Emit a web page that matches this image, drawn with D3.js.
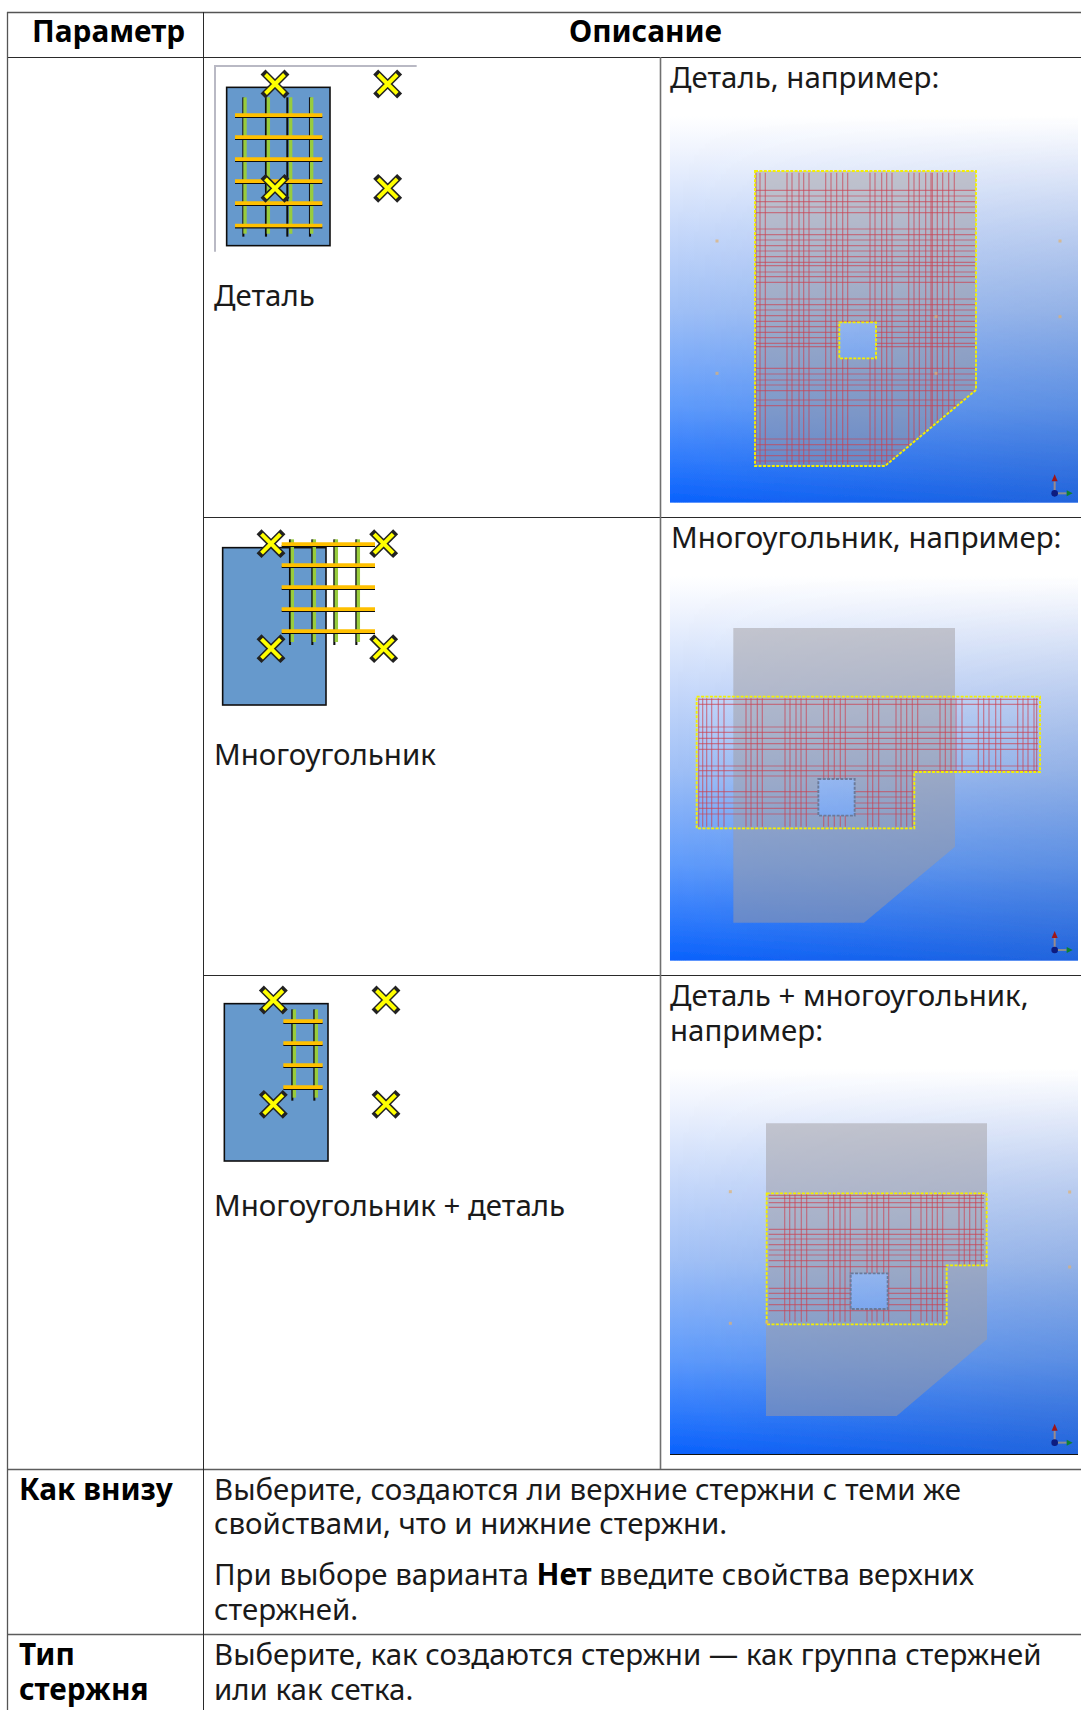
<!DOCTYPE html>
<html>
<head>
<meta charset="utf-8">
<style>
  html, body { margin: 0; padding: 0; background: #fff; overflow: hidden; }
  svg { display: block; }
  text { font-family: "Noto Sans", sans-serif; font-size: 29.45px; fill: #1a1a1a; }
  .b { font-weight: 700; fill: #000; font-size: 29.8px; }
  tspan.b { font-weight: 700; fill: #000; font-size: 29.8px; }
</style>
<script src="https://cdn.jsdelivr.net/npm/d3@7"></script>
</head>
<body>
<svg id="page" width="1081" height="1710"></svg>
<script>
//
// Data
//

// table rules
var ruleCols = [7, 203, 660]
var ruleRows = [12, 57, 517, 975, 1469, 1634]

// text: [x, baseline, string, bold]
var tableText = [
  [32, 42, 'Параметр', true],
  [569, 42, 'Описание', true],
  [214, 306, 'Деталь', false],
  [670, 88, 'Деталь, например:', false],
  [214, 765, 'Многоугольник', false],
  [671, 548, 'Многоугольник, например:', false],
  [214, 1216, 'Многоугольник + деталь', false],
  [670, 1006, 'Деталь + многоугольник,', false],
  [670, 1041, 'например:', false],
  [19, 1500, 'Как внизу', true],
  [214, 1500, 'Выберите, создаются ли верхние стержни с теми же', false],
  [214, 1534, 'свойствами, что и нижние стержни.', false],
  [214, 1620, 'стержней.', false],
  [19, 1665, 'Тип', true],
  [19, 1700, 'стержня', true],
  [214, 1665, 'Выберите, как создаются стержни — как группа стержней', false],
  [214, 1700, 'или как сетка.', false]
]

// the one line with a bold word in it
var mixedLine = [['При выборе варианта ', false], ['Нет', true], [' введите свойства верхних', false]]
var mixedLineAt = [214, 1585]

// icons, in 3x crop units of each thumbnail
var icon1Origin = [205, 55]
var icon1Block = [65, 97, 375, 572]
var icon1Green = [120, 190, 257, 320]
var icon1Black = [115, 183, 247, 315]
var icon1Span = [127, 545]
var icon1BarSpan = [90, 352]
var icon1Bars = [182, 248, 314, 380, 446, 513]
var icon1Cross = [[210, 87], [548, 87], [548, 400], [210, 400]]

var icon2Origin = [200, 510]
var icon2Block = [68, 113, 378, 585]
var icon2Green = [277, 343, 409, 475]
var icon2Black = [270, 337, 403, 469]
var icon2Span = [88, 405]
var icon2BarSpan = [245, 525]
var icon2Bars = [104, 167, 233, 299, 365]
var icon2Cross = [[213, 101], [551, 101], [213, 416], [551, 416]]

var icon3Origin = [200, 970]
var icon3Block = [73, 101, 384, 573]
var icon3Green = [283, 349]
var icon3Black = [277, 343]
var icon3Span = [118, 392]
var icon3BarSpan = [250, 368]
var icon3Bars = [155, 221, 287, 353]
var icon3Cross = [[220, 90], [558, 90], [220, 403], [558, 403]]

// screenshots, in 3x crop units
var shot1Origin = [660, 100]
var shot1Back = [30, 48, 1254, 1208]
var shot1Plate = [[285, 213], [948, 213], [948, 870], [675, 1098], [285, 1098]]
var shot1Hole = [[538, 667], [648, 667], [648, 775], [538, 775]]
var shot1Outline = shot1Plate
var shot1Vert = [288, 300, 316, 381, 396, 417, 431, 447, 497, 513, 530, 548, 563, 630, 645, 665, 680, 696, 746, 762, 778, 797, 813, 817, 832, 848, 866, 883]
var shot1Horz = [271, 288, 305, 321, 338, 387, 404, 420, 437, 453, 470, 487, 497, 516, 530, 547, 597, 614, 630, 647, 664, 680, 697, 713, 730, 740, 805, 822, 840, 855, 872, 900, 917, 1017, 1034, 1050, 1067, 1083]
var shot1VertSpan = [218, 1092]
var shot1HorzSpan = [288, 945]
var shot1Specks = [[171, 423], [1200, 423], [171, 820], [1200, 650], [828, 650], [828, 820]]
var shot1Triad = [1184, 1180]

var shot2Origin = [660, 560]
var shot2Back = [30, 48, 1254, 1202]
var shot2Plate = [[220, 204], [885, 204], [885, 860], [612, 1088], [220, 1088]]
var shot2Hole = [[475, 657], [584, 657], [584, 767], [475, 767]]
var shot2Outline = [[110, 410], [1140, 410], [1140, 636], [763, 636], [763, 805], [110, 805]]
var shot2Vert = [116, 128, 140, 155, 175, 192, 258, 273, 292, 307, 375, 390, 408, 423, 439, 491, 505, 523, 541, 556, 623, 638, 656, 708, 723, 740, 757, 773, 840, 856, 873, 888, 906, 955, 971, 987, 1007, 1022, 1073, 1089, 1104, 1122, 1130]
var shot2Horz = [418, 433, 501, 517, 535, 551, 568, 618, 632, 648, 695, 711, 729, 745, 762]
var shot2VertSpan = [415, 800]
var shot2HorzSpan = [116, 1134]
var shot2Specks = []
var shot2Triad = [1184, 1170]

var shot3Origin = [660, 1060]
var shot3Back = [30, 25, 1254, 1182]
var shot3Plate = [[318, 190], [981, 190], [981, 838], [710, 1068], [318, 1068]]
var shot3Hole = [[572, 640], [683, 640], [683, 747], [572, 747]]
var shot3Outline = [[320, 400], [980, 400], [980, 616], [860, 616], [860, 793], [320, 793]]
var shot3Vert = [374, 389, 405, 424, 440, 505, 521, 540, 555, 571, 621, 636, 651, 671, 686, 752, 783, 800, 817, 832, 848, 897, 913, 929, 947, 964]
var shot3Horz = [406, 415, 428, 442, 508, 523, 537, 554, 570, 585, 602, 620, 685, 700, 716, 734, 752]
var shot3VertSpan = [403, 785]
var shot3HorzSpan = [326, 972]
var shot3Specks = [[211, 395], [211, 790], [321, 788], [1229, 396], [1229, 621]]
var shot3Triad = [1184, 1148]

//
// Colors
//

var colorBlock = '#6699cc'
var colorGreen = '#98cc3e'
var colorOrange = '#ffc000'
var colorCross = '#ffff00'
var colorRebar = '#cc4050'
var colorOutline = '#f4f000'

//
// Setup
//

var svg = d3.select('#page')
var defs = svg.append('defs')
var line = d3.line()

defs.append('filter').attr('id', 'soft').append('feGaussianBlur').attr('stdDeviation', 0.5)
defs.append('filter').attr('id', 'softer').append('feGaussianBlur').attr('stdDeviation', 0.35)

var sky = defs.append('linearGradient').attr('id', 'sky')
  .attr('x1', 0).attr('y1', 0).attr('x2', 0).attr('y2', 1)
sky.selectAll('stop')
  .data([[0, '#ffffff'], [0.08, '#f1f5fe'], [0.3, '#c6d8fa'], [0.5, '#a0c0f6'], [0.75, '#5f9bfb'], [1, '#0a62fd']])
  .join('stop')
  .attr('offset', function (d) { return d[0] })
  .attr('stop-color', function (d) { return d[1] })

var dim = defs.append('linearGradient').attr('id', 'dim')
dim.append('stop').attr('offset', 0).attr('stop-color', '#5a6a90').attr('stop-opacity', 0)
dim.append('stop').attr('offset', 1).attr('stop-color', '#5a6a90').attr('stop-opacity', 0.3)

var fade = defs.append('linearGradient').attr('id', 'fade')
  .attr('x1', 0).attr('y1', 0).attr('x2', 0).attr('y2', 1)
fade.append('stop').attr('offset', 0).attr('stop-color', '#000')
fade.append('stop').attr('offset', 1).attr('stop-color', '#fff')
defs.append('mask').attr('id', 'fadeMask')
  .attr('maskContentUnits', 'objectBoundingBox')
  .append('rect').attr('width', 1).attr('height', 1).attr('fill', 'url(#fade)')

function cropScales(origin) {
  return {
    x: d3.scaleLinear().domain([0, 3]).range([origin[0], origin[0] + 1]),
    y: d3.scaleLinear().domain([0, 3]).range([origin[1], origin[1] + 1])
  }
}

function polyPath(s, pts) {
  return line(pts.map(function (p) { return [s.x(p[0]), s.y(p[1])] })) + 'Z'
}

//
// Icons
//

function drawIcon(origin, block, green, black, span, barSpan, bars, cross) {
  var s = cropScales(origin)
  var g = svg.append('g').attr('filter', 'url(#softer)')

  g.append('rect')
    .attr('x', s.x(block[0])).attr('y', s.y(block[1]))
    .attr('width', s.x(block[2]) - s.x(block[0])).attr('height', s.y(block[3]) - s.y(block[1]))
    .attr('fill', colorBlock).attr('stroke', '#111').attr('stroke-width', 1.6)

  g.selectAll('.black').data(black).join('line').attr('class', 'black')
    .attr('x1', s.x).attr('x2', s.x)
    .attr('y1', s.y(span[0])).attr('y2', s.y(span[1]))
    .attr('stroke', '#111').attr('stroke-width', 2.1)
  g.selectAll('.green').data(green).join('line').attr('class', 'green')
    .attr('x1', s.x).attr('x2', s.x)
    .attr('y1', s.y(span[0])).attr('y2', s.y(span[1]) - 3)
    .attr('stroke', colorGreen).attr('stroke-width', 3.4)

  g.selectAll('.barShade').data(bars).join('line').attr('class', 'barShade')
    .attr('x1', s.x(barSpan[0])).attr('x2', s.x(barSpan[1]))
    .attr('y1', function (d) { return s.y(d) + 1.5 }).attr('y2', function (d) { return s.y(d) + 1.5 })
    .attr('stroke', '#111').attr('stroke-width', 1.8)
  g.selectAll('.bar').data(bars).join('line').attr('class', 'bar')
    .attr('x1', s.x(barSpan[0])).attr('x2', s.x(barSpan[1]))
    .attr('y1', function (d) { return s.y(d) - 0.5 }).attr('y2', function (d) { return s.y(d) - 0.5 })
    .attr('stroke', colorOrange).attr('stroke-width', 3.6)

  var arm = 9.5
  var crossPath = function (d) {
    var cx = s.x(d[0]), cy = s.y(d[1])
    return 'M' + (cx - arm) + ',' + (cy - arm) + 'L' + (cx + arm) + ',' + (cy + arm) +
      'M' + (cx + arm) + ',' + (cy - arm) + 'L' + (cx - arm) + ',' + (cy + arm)
  }
  g.selectAll('.crossOut').data(cross).join('path').attr('class', 'crossOut')
    .attr('d', crossPath).attr('fill', 'none')
    .attr('stroke', '#222').attr('stroke-width', 7).attr('stroke-linecap', 'square')
  g.selectAll('.crossIn').data(cross).join('path').attr('class', 'crossIn')
    .attr('d', crossPath).attr('fill', 'none')
    .attr('stroke', colorCross).attr('stroke-width', 4).attr('stroke-linecap', 'butt')
}

// grey frame left over from the dialog screenshot
var frame = cropScales(icon1Origin)
svg.append('path')
  .attr('d', line([[frame.x(30), frame.y(590)], [frame.x(30), frame.y(33)], [frame.x(635), frame.y(33)]]))
  .attr('fill', 'none').attr('stroke', '#b9b9c4').attr('stroke-width', 2)

drawIcon(icon1Origin, icon1Block, icon1Green, icon1Black, icon1Span, icon1BarSpan, icon1Bars, icon1Cross)
drawIcon(icon2Origin, icon2Block, icon2Green, icon2Black, icon2Span, icon2BarSpan, icon2Bars, icon2Cross)
drawIcon(icon3Origin, icon3Block, icon3Green, icon3Black, icon3Span, icon3BarSpan, icon3Bars, icon3Cross)

//
// Screenshots
//

function drawShot(id, origin, back, plate, hole, outline, vert, horz, vertSpan, horzSpan, specks, triad, holeColor) {
  var s = cropScales(origin)
  var bx = s.x(back[0]), by = s.y(back[1])
  var bw = s.x(back[2]) - bx, bh = s.y(back[3]) - by
  var g = svg.append('g').attr('filter', 'url(#soft)')

  g.append('rect').attr('x', bx).attr('y', by).attr('width', bw).attr('height', bh).attr('fill', 'url(#sky)')
  g.append('rect').attr('x', bx).attr('y', by).attr('width', bw).attr('height', bh)
    .attr('fill', 'url(#dim)').attr('mask', 'url(#fadeMask)')

  g.append('path')
    .attr('d', polyPath(s, plate) + polyPath(s, hole))
    .attr('fill-rule', 'evenodd')
    .attr('fill', '#a09ca0').attr('opacity', 0.5)

  defs.append('clipPath').attr('id', id)
    .append('path')
    .attr('d', polyPath(s, outline) + polyPath(s, hole))
    .attr('clip-rule', 'evenodd')

  var bars = g.append('g').attr('clip-path', 'url(#' + id + ')')
  bars.selectAll('.v').data(vert).join('line').attr('class', 'v')
    .attr('x1', s.x).attr('x2', s.x)
    .attr('y1', s.y(vertSpan[0])).attr('y2', s.y(vertSpan[1]))
    .attr('stroke', colorRebar).attr('stroke-width', 1.2).attr('stroke-opacity', 0.62)
  bars.selectAll('.h').data(horz).join('line').attr('class', 'h')
    .attr('y1', s.y).attr('y2', s.y)
    .attr('x1', s.x(horzSpan[0])).attr('x2', s.x(horzSpan[1]))
    .attr('stroke', colorRebar).attr('stroke-width', 1.2).attr('stroke-opacity', 0.62)

  g.append('path').attr('d', polyPath(s, outline))
    .attr('fill', 'none').attr('stroke', colorOutline)
    .attr('stroke-width', 1.9).attr('stroke-dasharray', '3 1.4')
  g.append('path').attr('d', polyPath(s, hole))
    .attr('fill', 'none').attr('stroke', holeColor)
    .attr('stroke-width', 1.9).attr('stroke-dasharray', '3 1.4')

  g.selectAll('.speck').data(specks).join('rect').attr('class', 'speck')
    .attr('x', function (d) { return s.x(d[0]) - 1.5 })
    .attr('y', function (d) { return s.y(d[1]) - 1.5 })
    .attr('width', 3).attr('height', 3)
    .attr('fill', '#e0b070').attr('opacity', 0.7)

  // axis triad
  var tx = s.x(triad[0]), ty = s.y(triad[1])
  g.append('line').attr('x1', tx).attr('y1', ty).attr('x2', tx).attr('y2', ty - 12)
    .attr('stroke', '#9a8a8a').attr('stroke-width', 2)
  g.append('path').attr('d', line([[tx - 3, ty - 12], [tx + 3, ty - 12], [tx, ty - 19]]) + 'Z').attr('fill', '#a01818')
  g.append('line').attr('x1', tx).attr('y1', ty).attr('x2', tx + 12).attr('y2', ty)
    .attr('stroke', '#8a8f90').attr('stroke-width', 2)
  g.append('path').attr('d', line([[tx + 12, ty - 3], [tx + 12, ty + 3], [tx + 18, ty]]) + 'Z').attr('fill', '#108030')
  g.append('circle').attr('cx', tx).attr('cy', ty).attr('r', 3.3).attr('fill', '#0a1a80')
}

drawShot('clip1', shot1Origin, shot1Back, shot1Plate, shot1Hole, shot1Outline, shot1Vert, shot1Horz, shot1VertSpan, shot1HorzSpan, shot1Specks, shot1Triad, colorOutline)
drawShot('clip2', shot2Origin, shot2Back, shot2Plate, shot2Hole, shot2Outline, shot2Vert, shot2Horz, shot2VertSpan, shot2HorzSpan, shot2Specks, shot2Triad, '#6a7a9a')
drawShot('clip3', shot3Origin, shot3Back, shot3Plate, shot3Hole, shot3Outline, shot3Vert, shot3Horz, shot3VertSpan, shot3HorzSpan, shot3Specks, shot3Triad, '#6a7a9a')

// dark edge under the last screenshot
var s3 = cropScales(shot3Origin)
svg.append('line')
  .attr('x1', s3.x(shot3Back[0])).attr('x2', s3.x(shot3Back[2]))
  .attr('y1', s3.y(shot3Back[3]) + 0.5).attr('y2', s3.y(shot3Back[3]) + 0.5)
  .attr('stroke', '#111').attr('stroke-width', 1)

//
// Table rules
//

function hRule(y, x1, color, width) {
  svg.append('line')
    .attr('x1', x1).attr('x2', 1081)
    .attr('y1', y + 0.5).attr('y2', y + 0.5)
    .attr('stroke', color).attr('stroke-width', width)
}

function vRule(x, y1, y2, color, width) {
  svg.append('line')
    .attr('x1', x + 0.5).attr('x2', x + 0.5)
    .attr('y1', y1).attr('y2', y2)
    .attr('stroke', color).attr('stroke-width', width)
}

ruleRows.forEach(function (y, i) {
  // the first column is merged through the picture rows
  var x1 = (i === 2 || i === 3) ? ruleCols[1] : ruleCols[0]
  if (i === 0) hRule(y, x1, '#555', 1.4)
  else if (i < 4) hRule(y, x1, '#2a2a2a', 1)
  else hRule(y, x1, '#5c5c5c', 1.3)
})
vRule(ruleCols[0], ruleRows[0], 1710, '#555', 1.3)
vRule(ruleCols[1], ruleRows[0], 1710, '#2a2a2a', 1)
vRule(ruleCols[2], ruleRows[1], ruleRows[4], '#707070', 1.6)

//
// Text
//

svg.selectAll('text.cell').data(tableText).join('text')
  .attr('x', function (d) { return d[0] })
  .attr('y', function (d) { return d[1] })
  .attr('class', function (d) { return d[3] ? 'cell b' : 'cell' })
  .text(function (d) { return d[2] })

svg.append('text')
  .attr('x', mixedLineAt[0]).attr('y', mixedLineAt[1])
  .style('white-space', 'pre')
  .selectAll('tspan').data(mixedLine).join('tspan')
  .attr('class', function (d) { return d[1] ? 'b' : null })
  .text(function (d) { return d[0] })
</script>
</body>
</html>
